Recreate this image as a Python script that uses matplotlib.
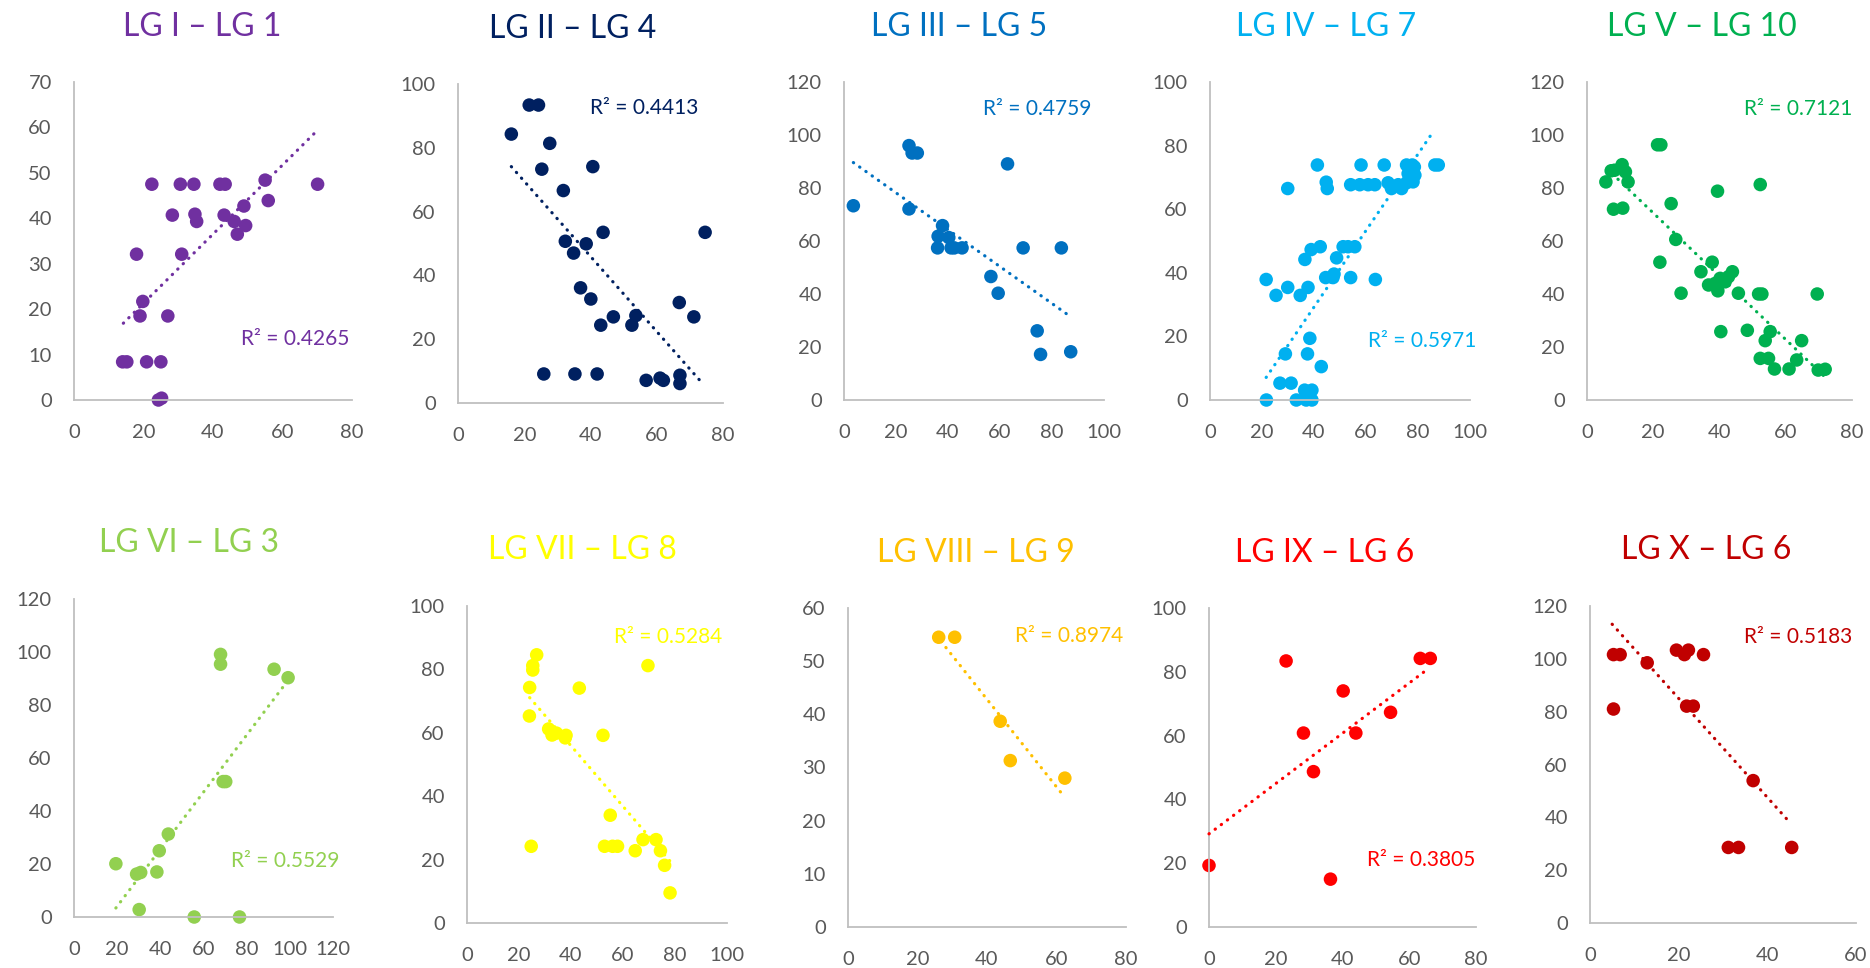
import numpy as np
import matplotlib.pyplot as plt

plt.rcParams['font.family'] = ['Lato', 'DejaVu Sans']

W, H = 1870, 968

# ---- data ----
p1_x = [22.4, 30.6, 34.5, 42.0, 43.5, 55.0, 70.1, 28.3, 34.8, 35.3, 43.2, 46.1, 48.9, 49.4, 47.0,
        55.9, 18.0, 31.0, 19.8, 19.0, 27.0, 14.0, 15.2, 20.9, 25.0, 24.3, 25.2]
p1_y = [47.5, 47.5, 47.5, 47.5, 47.5, 48.4, 47.5, 40.7, 40.9, 39.3, 40.7, 39.3, 42.7, 38.4, 36.5,
        43.9, 32.1, 32.1, 21.7, 18.5, 18.5, 8.4, 8.4, 8.4, 8.4, 0.0, 0.4]

p2_x = [21.5, 24.3, 16.1, 27.7, 25.3, 40.7, 31.8, 43.8, 74.6, 32.4, 38.7, 34.9, 37.0, 40.1, 66.8,
        46.9, 53.7, 71.2, 43.1, 52.5, 25.9, 35.3, 42.0, 56.8, 61.0, 62.0, 67.0, 67.0]
p2_y = [93.4, 93.4, 84.3, 81.4, 73.3, 74.1, 66.6, 53.5, 53.5, 50.7, 49.9, 47.0, 36.1, 32.6, 31.5,
        27.0, 27.4, 27.0, 24.4, 24.4, 9.1, 9.1, 9.1, 7.1, 7.8, 7.1, 8.7, 6.1]

p3_x = [3.6, 25.0, 26.2, 28.2, 25.0, 37.9, 36.2, 40.3, 36.0, 41.2, 42.4, 45.4, 62.9, 68.9, 83.6,
        56.5, 59.3, 74.3, 75.6, 87.2]
p3_y = [73.3, 96.0, 93.2, 93.2, 72.1, 65.8, 61.8, 61.3, 57.4, 57.4, 57.4, 57.4, 89.1, 57.4, 57.4,
        46.6, 40.3, 26.1, 17.2, 18.2]

p4_x = [41.3, 58.1, 67.0, 75.6, 77.8, 86.5, 87.8, 29.9, 44.7, 45.1, 54.1, 57.6, 60.8, 63.4,
        68.5, 69.8, 72.4, 73.7, 75.6, 78.1, 78.8, 78.6, 76.2,
        42.4, 38.9, 36.5, 51.2, 53.1, 55.7, 48.7, 21.6, 25.4, 29.9, 34.7, 37.7, 44.5, 47.7, 47.3,
        54.1, 63.6, 38.4, 29.0, 37.5, 42.8, 26.9, 31.2, 36.4, 39.2, 21.7, 33.2, 37.0, 39.2]
p4_y = [73.9, 73.9, 73.9, 73.9, 73.9, 73.9, 73.9, 66.5, 68.5, 66.5, 67.7, 67.7, 67.7, 67.7,
        68.3, 66.5, 67.7, 66.5, 68.3, 68.6, 70.7, 73.3, 71.2,
        48.2, 47.3, 44.2, 48.2, 48.2, 48.2, 44.7, 37.9, 32.9, 35.4, 32.9, 35.4, 38.5, 39.6, 38.5,
        38.5, 37.9, 19.4, 14.5, 14.5, 10.5, 5.3, 5.3, 3.1, 3.1, 0.0, 0.0, 0.0, 0.0]

p5_x = [5.7, 7.3, 8.3, 10.6, 11.6, 12.4, 8.0, 10.8, 21.3, 22.3, 25.4, 26.8, 22.0, 28.4, 39.4,
        52.3, 37.8, 34.4, 36.7, 39.5, 40.2, 41.7, 42.7, 43.9, 38.7, 45.7, 51.8, 52.8, 69.5,
        40.4, 48.4, 53.8, 55.3, 64.8, 52.3, 54.8, 63.3, 56.6, 61.0, 69.8, 71.9]
p5_y = [82.3, 86.5, 86.7, 88.8, 86.1, 82.3, 72.0, 72.4, 96.3, 96.3, 74.1, 60.6, 52.0, 40.3, 78.8,
        81.3, 52.0, 48.4, 43.4, 41.2, 45.9, 44.6, 46.5, 48.4, 44.0, 40.3, 40.0, 40.0, 40.0,
        25.8, 26.3, 22.4, 25.8, 22.4, 15.7, 15.7, 15.1, 11.7, 11.7, 11.3, 11.6]

p6_x = [19.4, 29.0, 30.9, 38.4, 39.5, 43.7, 30.2, 55.7, 76.7, 67.9, 67.9, 69.1, 70.3, 92.7, 99.2]
p6_y = [20.1, 16.2, 16.8, 17.0, 25.0, 31.3, 2.8, 0.0, 0.0, 99.1, 95.4, 51.1, 51.1, 93.5, 90.3]

p7_x = [24.1, 24.0, 26.8, 25.3, 25.3, 24.7, 43.2, 31.4, 32.7, 34.4, 38.1, 37.8, 52.3, 69.6,
        55.1, 52.9, 56.0, 57.9, 64.7, 67.7, 72.7, 74.4, 76.0, 78.1]
p7_y = [74.3, 65.3, 84.6, 81.2, 79.8, 24.2, 74.1, 61.2, 59.3, 59.9, 59.2, 58.4, 59.2, 81.2,
        34.0, 24.2, 24.2, 24.2, 22.8, 26.3, 26.3, 22.8, 18.2, 9.5]

p8_x = [26.1, 30.7, 43.8, 46.7, 62.4]
p8_y = [54.5, 54.5, 38.7, 31.3, 28.0]

p9_x = [0.0, 23.1, 28.3, 31.3, 36.4, 40.2, 44.0, 54.4, 63.3, 66.3]
p9_y = [19.3, 83.4, 60.8, 48.7, 15.0, 74.0, 60.8, 67.3, 84.2, 84.2]

p10_x = [5.3, 6.8, 5.3, 12.9, 19.5, 21.3, 22.2, 25.6, 21.8, 23.3, 36.8, 31.2, 33.5, 45.5]
p10_y = [101.6, 101.6, 81.0, 98.5, 103.3, 101.6, 103.3, 101.6, 82.1, 82.1, 53.9, 28.6, 28.6, 28.6]

# linear trendlines as drawn in the reference (start x, end x, start y, end y)
trend_x = [(14.2, 70.1), (16.1, 74.1), (3.6, 87.2), (21.6, 86.2), (6.0, 71.9),
           (19.4, 98.7), (24.1, 78.1), (26.8, 61.4), (0.0, 65.6), (5.0, 45.0)]
trend_y = [(16.9, 59.4), (74.1, 5.8), (89.6, 31.4), (7.1, 84.8), (87.3, 8.6),
           (3.4, 88.8), (71.1, 19.5), (53.7, 25.2), (29.2, 80.9), (113.1, 38.2)]

titles = ["LG I – LG 1", "LG II – LG 4", "LG III – LG 5", "LG IV – LG 7", "LG V – LG 10",
          "LG VI – LG 3", "LG VII – LG 8", "LG VIII – LG 9", "LG IX – LG 6", "LG X – LG 6"]
r2_labels = ["R² = 0.4265", "R² = 0.4413", "R² = 0.4759", "R² = 0.5971", "R² = 0.7121",
             "R² = 0.5529", "R² = 0.5284", "R² = 0.8974", "R² = 0.3805", "R² = 0.5183"]
colors = ["#7030A0", "#002060", "#0070C0", "#00B0F0", "#00B050",
          "#92D050", "#FFFF00", "#FFC000", "#FF0000", "#C00000"]
x_max = [80, 80, 100, 100, 80, 120, 100, 80, 80, 60]
y_max = [70, 100, 120, 100, 120, 120, 100, 60, 100, 120]
y_step = [10, 20, 20, 20, 20, 20, 20, 10, 20, 20]

series = [(p1_x, p1_y), (p2_x, p2_y), (p3_x, p3_y), (p4_x, p4_y), (p5_x, p5_y),
          (p6_x, p6_y), (p7_x, p7_y), (p8_x, p8_y), (p9_x, p9_y), (p10_x, p10_y)]

# ---- layout in pixels ----
# axes box: left, right, bottom, top
boxes = [(74, 352, 400, 82), (458, 723, 403, 84), (844, 1104, 400, 82), (1210, 1470, 400, 82),
         (1587, 1852, 400, 82), (74, 333, 917, 599), (467, 727, 923, 606), (848, 1126, 927, 608),
         (1209, 1476, 927, 608), (1590, 1856, 923, 606)]
title_pos = [(202, 27), (573, 29), (959, 27), (1326, 27), (1702, 27),
             (189, 543), (582, 550), (976, 553), (1325, 553), (1706, 550)]
r2_pos = [(349, 339), (698, 108), (1091, 109), (1476, 341), (1852, 109),
          (339, 861), (722, 637), (1123, 636), (1475, 860), (1852, 637)]

fig = plt.figure(figsize=(W / 100, H / 100), dpi=100)

for i, (xs, ys) in enumerate(series):
    l, r, b, t = boxes[i]
    ax = fig.add_axes([l / W, 1 - b / H, (r - l) / W, (b - t) / H])
    col = colors[i]

    ax.scatter(xs, ys, s=95, color=col, edgecolors='none', zorder=2, clip_on=False)

    # dotted linear trendline
    ax.plot(trend_x[i], trend_y[i], color=col, lw=2.3, linestyle=(0, (0.1, 2.3)),
            dash_capstyle='round', zorder=3, clip_on=False)

    ax.set_xlim(0, x_max[i])
    ax.set_ylim(0, y_max[i])
    ax.set_xticks(np.arange(0, x_max[i] + 1, 20))
    ax.set_yticks(np.arange(0, y_max[i] + 1, y_step[i]))

    for s in ['top', 'right']:
        ax.spines[s].set_visible(False)
    for s in ['left', 'bottom']:
        ax.spines[s].set_color('#BFBFBF')
        ax.spines[s].set_linewidth(1.3)
    ax.tick_params(length=0, labelsize=14.5, colors='#595959')
    ax.tick_params(axis='y', pad=16)
    ax.tick_params(axis='x', pad=17)
    ax.patch.set_alpha(0)

    tx_, ty_ = title_pos[i]
    fig.text(tx_ / W, 1 - ty_ / H, titles[i], color=col, fontsize=23,
             ha='center', va='center')
    rx, ry = r2_pos[i]
    fig.text(rx / W, 1 - ry / H, r2_labels[i], color=col, fontsize=15,
             ha='right', va='center')

fig.savefig('out.png', dpi=100)
